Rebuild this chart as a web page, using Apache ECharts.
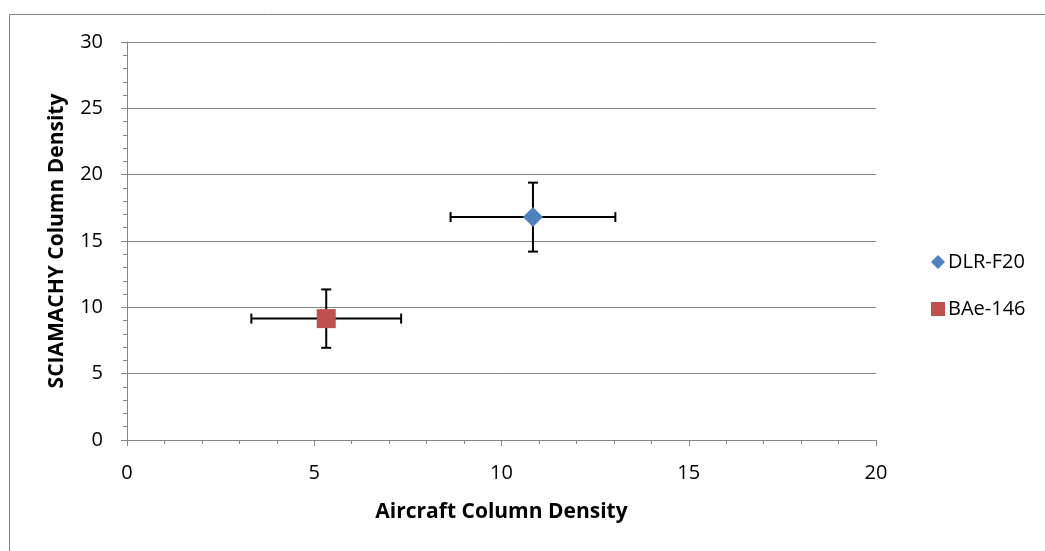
<!DOCTYPE html>
<html>
<head>
<meta charset="utf-8">
<script src="https://cdn.jsdelivr.net/npm/echarts@6/dist/echarts.min.js"></script>
<style>
  html, body { margin: 0; padding: 0; background: #fff; }
  #chart { width: 1045px; height: 551px; }
</style>
</head>
<body>
<div id="chart"></div>
<script>
// data
var seriesNames = ['DLR-F20', 'BAe-146'];
var xValues = [10.84, 5.32];
var yValues = [16.8, 9.15];
var xErrors = [2.2, 2.0];
var yErrors = [2.6, 2.2];
var xTicks = [0, 5, 10, 15, 20];
var yTicks = [0, 5, 10, 15, 20, 25, 30];

var colors = ['#4F81BD', '#C0504D'];
var symbols = ['diamond', 'rect'];
var symbolSizes = [20, 19];
var font = '"Open Sans", Lato, sans-serif';

var chartDom = document.getElementById('chart');
var myChart = echarts.init(chartDom);
var option;

// error bar rows: [x, y, xerr, yerr]
var errData = xValues.map(function (x, i) {
  return [x, yValues[i], xErrors[i], yErrors[i]];
});

function renderErr(params, api) {
  var x = api.value(0), y = api.value(1);
  var ex = api.value(2), ey = api.value(3);
  var c = api.coord([x, y]);
  var l = api.coord([x - ex, y]);
  var r = api.coord([x + ex, y]);
  var t = api.coord([x, y + ey]);
  var b = api.coord([x, y - ey]);
  var cap = 5;
  var style = { stroke: '#000', lineWidth: 2 };
  var lines = [
    [l[0], c[1], r[0], c[1]],
    [l[0], c[1] - cap, l[0], c[1] + cap],
    [r[0], c[1] - cap, r[0], c[1] + cap],
    [c[0], t[1], c[0], b[1]],
    [c[0] - cap, t[1], c[0] + cap, t[1]],
    [c[0] - cap, b[1], c[0] + cap, b[1]]
  ];
  return {
    type: 'group',
    children: lines.map(function (p) {
      return { type: 'line', shape: { x1: p[0], y1: p[1], x2: p[2], y2: p[3] }, style: style };
    })
  };
}

var axisCommon = {
  type: 'value',
  nameLocation: 'middle',
  nameTextStyle: { fontFamily: font, fontWeight: 'bold', fontSize: 21, color: '#000' },
  axisLine: { show: true, lineStyle: { color: '#868686', width: 1 } },
  axisTick: { show: true, length: 6, lineStyle: { color: '#868686' } },
  minorTick: { show: true, splitNumber: 5, length: 4, lineStyle: { color: '#868686' } },
  axisLabel: { fontFamily: font, fontSize: 20, color: '#000', margin: 12 }
};

option = {
  animation: false,
  grid: { left: 127, right: 169, top: 42, bottom: 111 },
  graphic: [
    {
      type: 'rect',
      shape: { x: 9.5, y: 14.5, width: 1100, height: 600 },
      style: { fill: 'none', stroke: '#868686', lineWidth: 1 },
      silent: true
    }
  ],
  legend: {
    orient: 'vertical',
    left: 926,
    top: 247,
    itemWidth: 14,
    itemHeight: 14,
    itemGap: 27,
    itemStyle: { opacity: 1 },
    textStyle: { fontFamily: font, fontSize: 20, color: '#000', padding: [0, 0, 0, -2] },
    data: seriesNames.map(function (n, i) { return { name: n, icon: symbols[i] }; })
  },
  xAxis: Object.assign({}, axisCommon, {
    name: 'Aircraft Column Density',
    nameGap: 62,
    min: xTicks[0],
    max: xTicks[xTicks.length - 1],
    interval: 5,
    splitLine: { show: false },
    axisLabel: Object.assign({}, axisCommon.axisLabel, { margin: 23 })
  }),
  yAxis: Object.assign({}, axisCommon, {
    name: 'SCIAMACHY Column Density',
    nameGap: 59,
    min: yTicks[0],
    max: yTicks[yTicks.length - 1],
    interval: 5,
    splitLine: { show: true, lineStyle: { color: '#868686', width: 1 } },
    axisLabel: Object.assign({}, axisCommon.axisLabel, { margin: 24 })
  }),
  series: [
    {
      type: 'custom',
      name: 'errors',
      renderItem: renderErr,
      encode: { x: 0, y: 1 },
      data: errData,
      z: 2
    }
  ].concat(seriesNames.map(function (n, i) {
    return {
      type: 'scatter',
      name: n,
      symbol: symbols[i],
      symbolSize: symbolSizes[i],
      itemStyle: { color: colors[i], opacity: 1 },
      data: [[xValues[i], yValues[i]]],
      z: 5
    };
  }))
};

option && myChart.setOption(option);
</script>
</body>
</html>
